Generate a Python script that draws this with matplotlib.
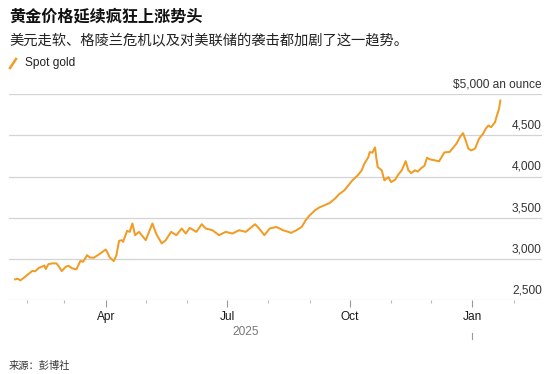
import pandas as pd
import matplotlib
matplotlib.use("Agg")
import matplotlib.pyplot as plt
import matplotlib.dates as mdates
import matplotlib.transforms as mtransforms
from matplotlib.lines import Line2D

# --- data (spot gold, USD/oz) ---
dates = [
    "2025-01-23", "2025-01-25", "2025-01-27", "2025-01-30", "2025-02-02", "2025-02-05",
    "2025-02-07", "2025-02-10", "2025-02-12", "2025-02-14", "2025-02-15", "2025-02-17",
    "2025-02-20", "2025-02-23", "2025-02-25", "2025-02-27", "2025-03-02", "2025-03-04",
    "2025-03-07", "2025-03-10", "2025-03-13", "2025-03-15", "2025-03-18", "2025-03-20",
    "2025-03-23", "2025-03-28", "2025-04-01", "2025-04-02", "2025-04-04", "2025-04-07",
    "2025-04-09", "2025-04-11", "2025-04-13", "2025-04-14", "2025-04-17", "2025-04-19",
    "2025-04-21", "2025-04-23", "2025-04-26", "2025-05-01", "2025-05-06", "2025-05-09",
    "2025-05-13", "2025-05-16", "2025-05-20", "2025-05-24", "2025-05-28", "2025-05-31",
    "2025-06-03", "2025-06-08", "2025-06-12", "2025-06-15", "2025-06-20", "2025-06-25",
    "2025-06-30", "2025-07-05", "2025-07-10", "2025-07-15", "2025-07-22", "2025-07-25",
    "2025-07-29", "2025-08-02", "2025-08-07", "2025-08-12", "2025-08-16", "2025-08-18",
    "2025-08-22", "2025-08-26", "2025-08-29", "2025-09-01", "2025-09-05", "2025-09-08",
    "2025-09-12", "2025-09-16", "2025-09-20", "2025-09-23", "2025-09-27", "2025-09-30",
    "2025-10-03", "2025-10-07", "2025-10-10", "2025-10-12", "2025-10-15", "2025-10-16",
    "2025-10-18", "2025-10-20", "2025-10-21", "2025-10-22", "2025-10-25", "2025-10-27",
    "2025-10-30", "2025-11-01", "2025-11-04", "2025-11-06", "2025-11-09", "2025-11-12",
    "2025-11-14", "2025-11-16", "2025-11-19", "2025-11-21", "2025-11-24", "2025-11-26",
    "2025-11-28", "2025-11-30", "2025-12-04", "2025-12-07", "2025-12-11", "2025-12-15",
    "2025-12-17", "2025-12-20", "2025-12-23", "2025-12-25", "2025-12-27", "2025-12-29",
    "2025-12-31", "2026-01-03", "2026-01-06", "2026-01-09", "2026-01-11", "2026-01-13",
    "2026-01-15", "2026-01-18", "2026-01-19", "2026-01-21", "2026-01-22",
]
prices = [
    2751, 2758, 2739, 2775, 2815, 2855,
    2848, 2892, 2904, 2920, 2876, 2936,
    2945, 2945, 2904, 2851, 2904, 2916,
    2884, 2872, 2976, 2964, 3045, 3017,
    3013, 3066, 3114, 3085, 3017, 2973,
    3045, 3219, 3227, 3207, 3340, 3328,
    3430, 3288, 3328, 3227, 3430, 3300,
    3187, 3227, 3328, 3288, 3369, 3308,
    3376, 3328, 3421, 3369, 3348, 3288,
    3328, 3308, 3348, 3328, 3421, 3369,
    3288, 3369, 3388, 3348, 3328, 3316,
    3348, 3388, 3470, 3530, 3590, 3623,
    3651, 3679, 3733, 3785, 3833, 3894,
    3954, 4015, 4076, 4157, 4237, 4298,
    4290, 4355, 4218, 4116, 4076, 3954,
    3994, 3934, 3960, 4015, 4076, 4188,
    4076, 4043, 4076, 4060, 4108, 4130,
    4229, 4210, 4197, 4185, 4294, 4300,
    4339, 4399, 4488, 4528, 4439, 4339,
    4318, 4340, 4460, 4520, 4581, 4621,
    4600, 4661, 4721, 4824, 4924,
]
y_ticks = [2500, 3000, 3500, 4000, 4500, 5000]
y_labels = ["2,500", "3,000", "3,500", "4,000", "4,500", "$5,000 an ounce"]
x_major = ["2025-04-01", "2025-07-01", "2025-10-01", "2026-01-01"]
x_major_labels = ["Apr", "Jul", "Oct", "Jan"]

data = pd.DataFrame({"date": pd.to_datetime(dates), "price": prices})

gold = "#f19c26"
cjk = ["Noto Sans CJK SC", "DejaVu Sans"]
latin = ["Liberation Sans", "DejaVu Sans"]

fig = plt.figure(figsize=(5.54, 3.74), dpi=100)
ax = fig.add_axes([9.3 / 554, 1 - 300 / 374, (541.7 - 9.3) / 554, (300 - 94.3) / 374])

# gridlines (the 2,500 one doubles as baseline)
for v in y_ticks:
    ax.axhline(v, color="#d4d4d4", lw=0.9, zorder=1)

ax.plot(data["date"], data["price"], color=gold, lw=1.45, zorder=3, solid_joinstyle="round")

ax.set_xlim(pd.Timestamp("2025-01-18 16:00"), pd.Timestamp("2026-02-22"))
ax.set_ylim(2500, 5000)
for s in ax.spines.values():
    s.set_visible(False)
ax.set_yticks([])

# x ticks: quarters major, months minor
ax.set_xticks(pd.to_datetime(x_major))
ax.set_xticklabels(x_major_labels, fontsize=8.6, family=latin, color="#1a1a1a")
ax.xaxis.set_minor_locator(mdates.MonthLocator())
ax.tick_params(axis="x", which="major", length=5, width=0.8, color="#999999", pad=3)
ax.tick_params(axis="x", which="minor", length=2.5, width=0.8, color="#bbbbbb")

# y labels sit above the gridlines, right-aligned
trans = mtransforms.blended_transform_factory(ax.transAxes, ax.transData)
for v, lab in zip(y_ticks, y_labels):
    ax.text(1.0, v + 45, lab, transform=trans, ha="right", va="bottom",
            fontsize=8.6, family=latin, color="#333333")

# year label and year-boundary mark
tx = mtransforms.blended_transform_factory(ax.transData, ax.transAxes)
ax.text(pd.Timestamp("2025-07-15"), -0.155, "2025", transform=tx, ha="center", va="center",
        fontsize=8.6, family=latin, color="#777777")
ax.plot([pd.Timestamp("2026-01-01")] * 2, [-0.16, -0.19], transform=tx,
        color="#999999", lw=0.8, clip_on=False)

# titles
fig.text(9 / 554, 1 - 17 / 374, "黄金价格延续疯狂上涨势头", family=cjk, fontsize=11.6,
         fontweight="bold", color="#111111", va="center", ha="left")
fig.text(9 / 554, 1 - 40 / 374, "美元走软、格陵兰危机以及对美联储的袭击都加剧了这一趋势。",
         family=cjk, fontsize=10.3, color="#222222", va="center", ha="left")

# legend
fig.add_artist(Line2D([10 / 554, 16 / 554], [1 - 68 / 374, 1 - 59 / 374],
                      color=gold, lw=1.8, transform=fig.transFigure))
fig.text(25 / 554, 1 - 63 / 374, "Spot gold", family=latin, fontsize=8.6,
         color="#222222", va="center", ha="left")

# source
fig.text(9 / 554, 1 - 366 / 374, "来源：彭博社", family=cjk, fontsize=7.4,
         color="#333333", va="center", ha="left")

fig.savefig("out.png", dpi=100)
